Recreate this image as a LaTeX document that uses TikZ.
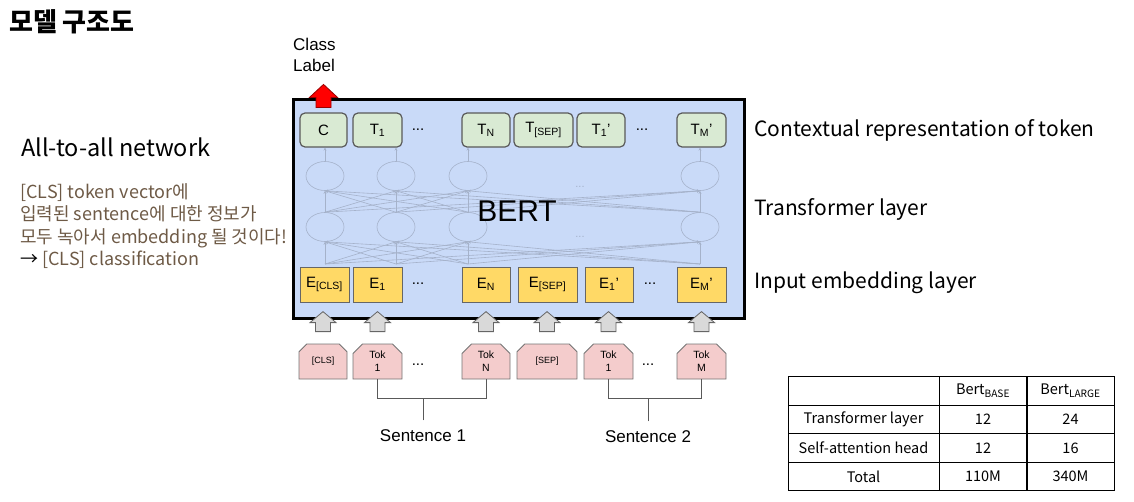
\documentclass[tikz,border=0pt]{standalone}
\usepackage{fontspec}
\setmainfont{Liberation Sans}
\newfontfamily\krfont{Noto Sans CJK KR}
\usetikzlibrary{shapes.misc,shapes.geometric,arrows.meta}

\begin{document}
\begin{tikzpicture}[x=1pt,y=-1pt,font=\fontsize{15}{18}\selectfont,
		outbox/.style={draw=black!65,fill=outgreen,rounded corners=5pt,line width=1.2pt,minimum height=34pt,inner sep=0pt},
		embbox/.style={draw=black!60,fill=embyellow,line width=0.8pt,minimum height=35pt,inner sep=0pt},
		inbox/.style={chamfered rectangle,chamfered rectangle corners={north west,north east},chamfered rectangle xsep=6pt,
			draw=black!55,fill=inpink,line width=0.8pt,minimum height=35pt,inner sep=0pt,align=center,font=\fontsize{10.5}{13}\selectfont},
		faint/.style={draw=faintcolor,line width=0.6pt},
		uparrow/.style={draw=black!60,fill=arrowgray,line width=0.8pt},
		bracket/.style={draw=black!65,line width=0.9pt},
		label/.style={anchor=west,inner sep=0pt,font=\krfont\fontsize{21}{25}\selectfont},
		cell/.style={draw,line width=0.7pt,inner sep=0pt,minimum height=28.5pt,font=\krfont\fontsize{14.5}{17}\selectfont}]
		%%% Colores
		\definecolor{bertblue}{RGB}{201,218,248}
		\definecolor{outgreen}{RGB}{217,234,211}
		\definecolor{embyellow}{RGB}{255,217,102}
		\definecolor{inpink}{RGB}{244,204,204}
		\definecolor{arrowgray}{RGB}{217,217,217}
		\definecolor{faintcolor}{RGB}{165,178,202}
		\definecolor{notecolor}{RGB}{110,90,70}
		\useasboundingbox (0,0) rectangle (1134,501);

		%%% Caja BERT
		\draw[fill=bertblue,line width=3pt] (293.5,99.5) rectangle (744.5,318.5);

		%%% Capas transformer (tenue)
		\foreach \i/\x in {a/325,b/396,c/468,d/700} {
			\node[faint,ellipse,fill=bertblue,minimum width=38pt,minimum height=29pt,inner sep=0pt] (up\i) at (\x,176) {};
			\node[faint,ellipse,fill=bertblue,minimum width=38pt,minimum height=29pt,inner sep=0pt] (lo\i) at (\x,227) {};
			\coordinate (org\i) at (\x,264);
		}
		\foreach \i in {a,b,c,d} {
			\foreach \j in {a,b,c,d} {
				\draw[faint,-{Stealth[length=3pt,width=3pt]}] (org\i) -- (lo\j.south);
				\draw[faint,-{Stealth[length=3pt,width=3pt]}] (lo\i.north) -- (up\j.south);
			}
		}
		\node[text=faintcolor,font=\fontsize{11}{12}\selectfont] (fdots1) at (580,187) {...};
		\node[text=faintcolor,font=\fontsize{11}{12}\selectfont] (fdots2) at (580,237) {...};

		%%% Salidas
		\foreach \n/\x/\w/\lab in {c/323.5/47/C, 1/377.5/49/{T\textsubscript{1}}, n/486/48/{T\textsubscript{N}},
			sep/543.5/59/{T\textsubscript{[SEP]}}, 1b/601/48/{T\textsubscript{1}’},
			m/701.5/49/{T\textsubscript{M}’}} {
			\node[outbox,minimum width=\w] (t\n) at (\x,130) {\lab};
		}
		\foreach \i in {a,b,c,d} {
			\draw[faint,-{Stealth[length=3pt,width=3pt]}] (up\i.north) -- (up\i.north |- tc.south);
		}

		%%% Embeddings
		\foreach \n/\x/\w/\lab in {cls/324.5/49/{E\textsubscript{[CLS]}}, 1/377.5/49/{E\textsubscript{1}}, n/486/48/{E\textsubscript{N}},
			sep/547.5/59/{E\textsubscript{[SEP]}}, 1b/609/48/{E\textsubscript{1}’},
			m/701.5/49/{E\textsubscript{M}’}} {
			\node[embbox,minimum width=\w] (e\n) at (\x,284.5) {\lab};
		}

		%%% Tokens de entrada
		\foreach \n/\x/\w/\lab in {cls/323/48/{\fontsize{9}{11}\selectfont[CLS]}, 1/377.5/49/{Tok\\1}, n/486/48/{Tok\\N},
			sep/547/60/{\fontsize{9}{11}\selectfont[SEP]}, 1b/608.5/49/{Tok\\1}, m/701.5/49/{Tok\\M}} {
			\node[inbox,minimum width=\w] (k\n) at (\x,361.5) {\lab};
			% Flecha gris hacia el embedding
			\draw[uparrow] (k\n.north) ++(-7.5,-12) -- ++(0,-9) -- ++(-5.5,0) -- ++(13,-11) -- ++(13,11) -- ++(-5.5,0) -- ++(0,9) -- cycle;
		}

		%%% Puntos
		\foreach \n/\x/\y in {a/418/130, b/642/130, c/418/284, d/650/284, e/418/365, f/648/365} {
			\node (dots\n) at (\x,\y) {...};
		}

		\node[font=\fontsize{30}{36}\selectfont] (bert) at (517,211) {BERT};

		%%% Etiqueta de clase
		\draw[fill=red,draw=red!60!black,line width=0.8pt] (tc.north) ++(-7.5,-5) -- ++(0,-10) -- ++(-6.5,0) -- ++(14,-13) -- ++(14,13) -- ++(-6.5,0) -- ++(0,10) -- cycle;
		\node[anchor=west,align=left,inner sep=0pt,font=\fontsize{17}{20.5}\selectfont] (classlab) at (293,55) {Class\\Label};

		%%% Oraciones
		\node[font=\fontsize{17}{20}\selectfont] (sent1) at (423,436) {Sentence 1};
		\node[font=\fontsize{17}{20}\selectfont] (sent2) at (648,437) {Sentence 2};
		\draw[bracket] (k1.south) -- ++(0,19) coordinate (br1) -| (kn.south);
		\draw[bracket] ([yshift=6pt]sent1.north) -- (sent1.north |- br1);
		\draw[bracket] (k1b.south) -- ++(0,19) coordinate (br2) -| (km.south);
		\draw[bracket] ([yshift=6pt]sent2.north) -- (sent2.north |- br2);

		%%% Etiquetas de capas
		\node[label] (lctx) at (754,130) {Contextual representation of token};
		\node[label] (ltrf) at (754,209) {Transformer layer};
		\node[label] (lemb) at (754,283) {Input embedding layer};

		%%% Texto izquierdo
		\node[anchor=west,inner sep=0pt,font=\krfont\bfseries\fontsize{26}{30}\selectfont] (title) at (9,22) {모델 구조도};
		\node[anchor=west,inner sep=0pt,font=\krfont\fontsize{23.5}{28}\selectfont] (net) at (21,147) {All-to-all network};
		\node[anchor=west,inner sep=0pt,align=left,text=notecolor,font=\krfont\fontsize{18}{22.5}\selectfont] (note) at (20,226)
			{[CLS] token vector에\\입력된 sentence에 대한 정보가\\모두 녹아서 embedding 될 것이다!\\{\color{black}→} [CLS] classification};

		%%% Tabla
		\foreach \r/\y/\a/\b/\c in {0/391/{}/{Bert\textsubscript{BASE}}/{Bert\textsubscript{LARGE}},
			1/419.5/{Transformer layer}/12/24, 2/448/{Self-attention head}/12/16, 3/476.5/Total/110M/340M} {
			\node[cell,minimum width=151pt] (row\r-a) at (863.5,\y) {\a};
			\node[cell,minimum width=88pt] (row\r-b) at (983,\y) {\b};
			\node[cell,minimum width=87.5pt] (row\r-c) at (1070.5,\y) {\c};
		}
	\end{tikzpicture}
\end{document}
